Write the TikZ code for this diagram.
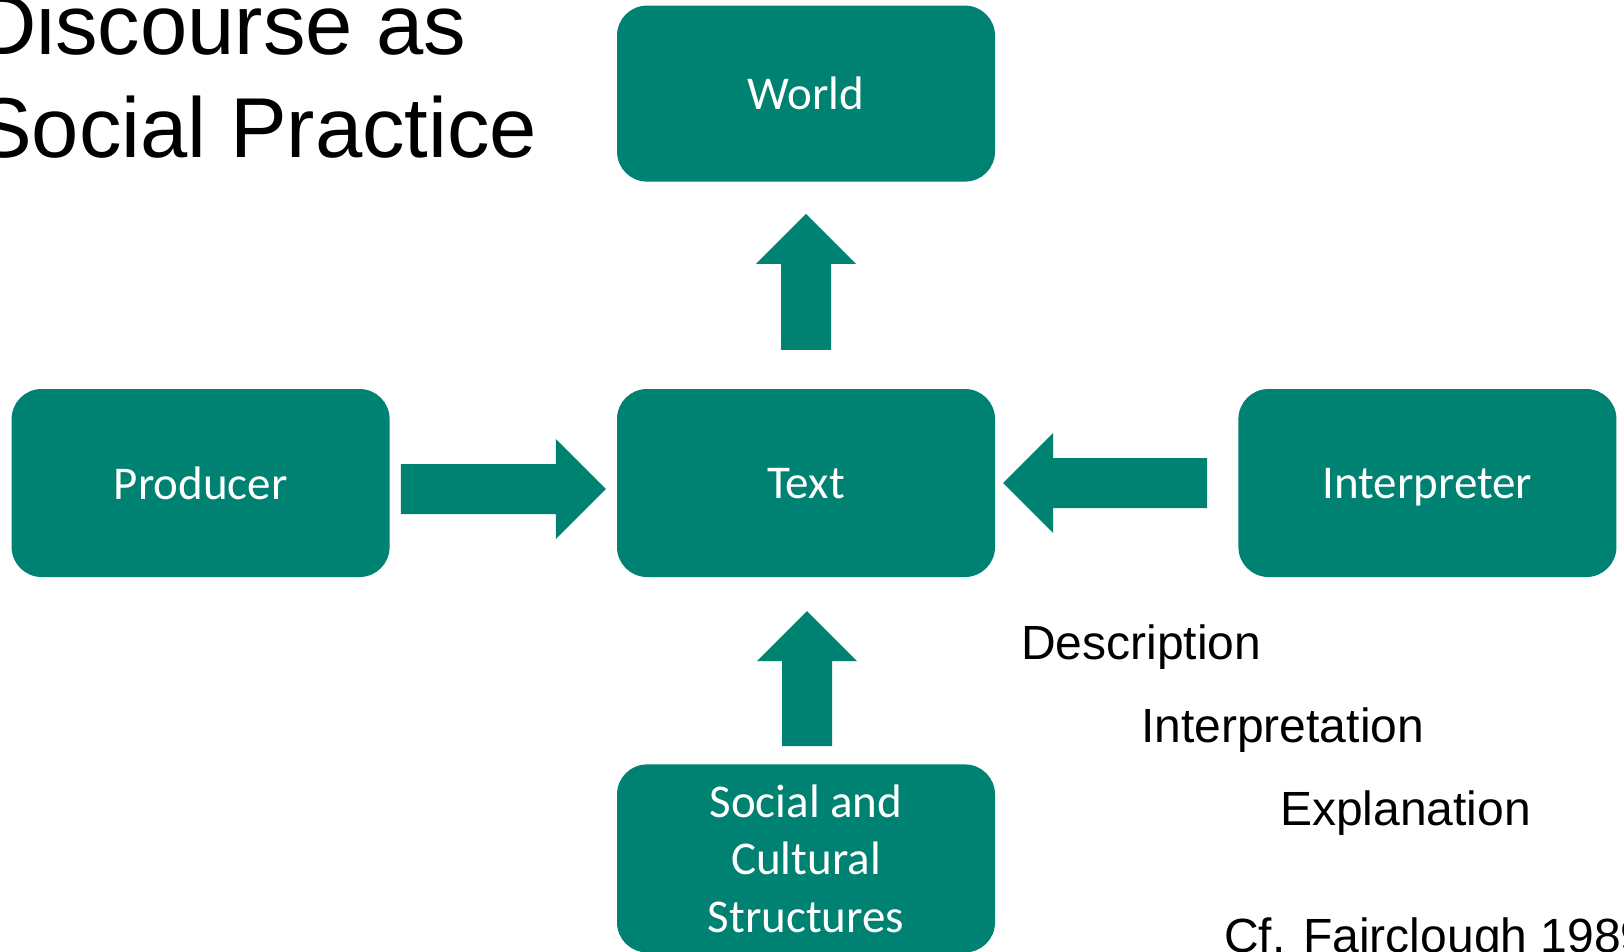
\documentclass[tikz,border=0pt]{standalone}
\usepackage{fontspec}
\setmainfont{Liberation Sans}
\newfontfamily\boxfont{Carlito}
\usetikzlibrary{calc,positioning}
\definecolor{boxteal}{RGB}{0,130,115}
\tikzset{
  box/.style      = {shape=rectangle, rounded corners=30pt,
                     fill=boxteal, text=white, align=center,
                     font=\boxfont\fontsize{47}{57.5}\selectfont,
                     minimum width=378pt, minimum height=188pt,
                     text depth=0pt, inner sep=0pt},
  heading/.style  = {font=\fontsize{85}{103}\selectfont, align=left,
                     anchor=base west, inner sep=0pt},
  stage/.style    = {font=\fontsize{48}{58}\selectfont,
                     anchor=base west, inner sep=0pt},
  fatarrow/.style = {fill=boxteal}
}
% block arrow from tail #1 to tip #2
\newcommand{\blockarrow}[2]{
  \path ($(#2)!50pt!(#1)$) coordinate (hb);
  \fill[fatarrow] ($(#1)!25pt!90:(#2)$) -- ($(hb)!25pt!90:(#2)$)
    -- ($(hb)!50pt!90:(#2)$) -- (#2) -- ($(hb)!50pt!-90:(#2)$)
    -- ($(hb)!25pt!-90:(#2)$) -- ($(#1)!25pt!-90:(#2)$) -- cycle;
}

\begin{document}
\begin{tikzpicture}[x=1pt, y=-1pt]
  \useasboundingbox (0,0) rectangle (1624,951);

  % base sits on the second line
  \node[heading] (title) at (-25,157) {Discourse as\\Social Practice};

  \node[box] (txt) at (806,483) {Text};
  \node[box, minimum height=176pt, above=207pt of txt] (world) {World};
  \node[box, left=227pt of txt] (prod) {Producer};
  \node[box, right=243pt of txt] (interp) {Interpreter};
  \node[box, below=187pt of txt] (social) {Social and\\Cultural\\Structures};

  % arrows into the text
  \coordinate (p-tail) at ($(prod.east)+(11,6)$);
  \coordinate (p-tip)  at ($(txt.west)+(-11,6)$);
  \coordinate (i-tail) at ($(interp.west)+(-31,0)$);
  \coordinate (i-tip)  at ($(txt.east)+(8,0)$);
  \coordinate (s-tail) at ($(social.north)+(1,-18)$);
  \coordinate (s-tip)  at ($(txt.south)+(1,34)$);
  \coordinate (w-tail) at ($(txt.north)+(0,-39)$);
  \coordinate (w-tip)  at ($(world.south)+(0,32)$);
  \blockarrow{p-tail}{p-tip}
  \blockarrow{i-tail}{i-tip}
  \blockarrow{s-tail}{s-tip}
  \blockarrow{w-tail}{w-tip}

  % levels of analysis
  \node[stage] (desc)  at (1021,659) {Description};
  \node[stage] (interpn) at (1141,742) {Interpretation};
  \node[stage] (expl)  at (1280,825) {Explanation};
  \node[stage] (cite)  at (1224,952) {Cf. Fairclough 1989};
\end{tikzpicture}
\end{document}
